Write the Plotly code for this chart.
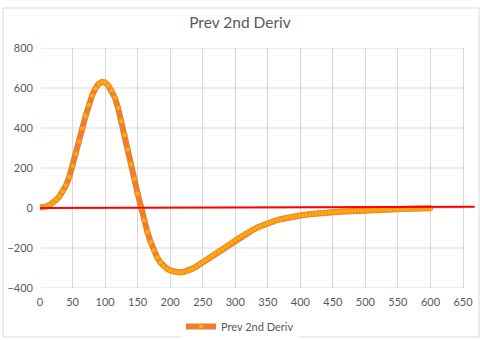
import plotly.graph_objects as go

# Data
x_vals = list(range(0, 605, 5))
y_vals = [
    2, 4, 8, 16, 27, 41, 58, 82, 113, 155,
    210, 270, 332, 398, 460, 515, 562, 597, 620, 630,
    627, 612, 588, 552, 500, 435, 365, 292, 218, 145,
    72, 2, -62, -120, -170, -212, -247, -272, -290, -303,
    -312, -318, -321, -322, -320, -316, -310, -302, -293, -282,
    -271, -260, -249, -238, -227, -216, -205, -194, -183, -172,
    -161, -150, -140, -130, -121, -112, -104, -96, -89, -82,
    -76, -70, -65, -60, -56, -52, -48, -45, -42, -39,
    -37, -35, -33, -31, -29, -28, -26, -25, -24, -22,
    -21, -20, -19, -18, -17, -16, -15, -14, -13, -13,
    -12, -11, -11, -10, -9, -9, -8, -7, -7, -6,
    -6, -5, -5, -4, -4, -3, -3, -2, -2, -1, -1,
]
ref_x = [0, 668]
ref_y = [0, 6]

x_max = 650
y_ticks = [-400, -200, 0, 200, 400, 600, 800]
x_ticks = list(range(0, 651, 50))

series_name = "Prev 2nd Deriv"
title_text = "Prev 2nd Deriv"

# plot area: 40px .. 475px wide (axis values 0..650 span 423px)
plot_w = 435
x_range_max = x_max * plot_w / 423.0

fig = go.Figure()
fig.add_trace(go.Scatter(
    x=x_vals, y=y_vals, name=series_name, mode="lines+markers",
    line=dict(color="#ED7D31", width=6),
    marker=dict(symbol="circle", size=5, color="#FFB000",
                line=dict(color="#F08A30", width=1)),
))
fig.add_trace(go.Scatter(
    x=ref_x, y=ref_y, mode="lines", showlegend=False,
    line=dict(color="#FF0000", width=2),
))

shapes = [dict(type="line", xref="x", yref="y", x0=0, x1=x_max, y0=v, y1=v,
               line=dict(color="#D9D9D9", width=1), layer="below") for v in y_ticks]
shapes.append(dict(type="rect", xref="paper", yref="paper",
                   x0=-37 / plot_w, x1=439 / plot_w, y0=-49 / 240, y1=280 / 240,
                   line=dict(color="#D9D9D9", width=1), layer="below"))

fig.update_layout(
    width=480, height=340,
    margin=dict(l=40, r=5, t=48, b=52, autoexpand=False),
    paper_bgcolor="white", plot_bgcolor="white",
    font=dict(family="Lato", color="#595959", size=11),
    title=dict(text=title_text, x=0.5, xanchor="center", y=1 - 22.5 / 340,
               yanchor="middle", font=dict(size=15.5, color="#595959", family="Lato")),
    showlegend=True,
    legend=dict(orientation="h", x=200 / plot_w, xanchor="center", y=-38.5 / 240,
                yanchor="middle", font=dict(size=11, color="#595959")),
    xaxis=dict(range=[0, x_range_max], tickvals=x_ticks, showgrid=True,
               gridcolor="#D9D9D9", zeroline=False, showline=False, ticks="",
               ticklabelstandoff=6, automargin=False),
    yaxis=dict(range=[-400, 800], tickvals=y_ticks, showgrid=False,
               zeroline=False, showline=False, ticks="", ticklabelstandoff=6,
               automargin=False),
    shapes=shapes,
)

fig.write_html("out.html")
